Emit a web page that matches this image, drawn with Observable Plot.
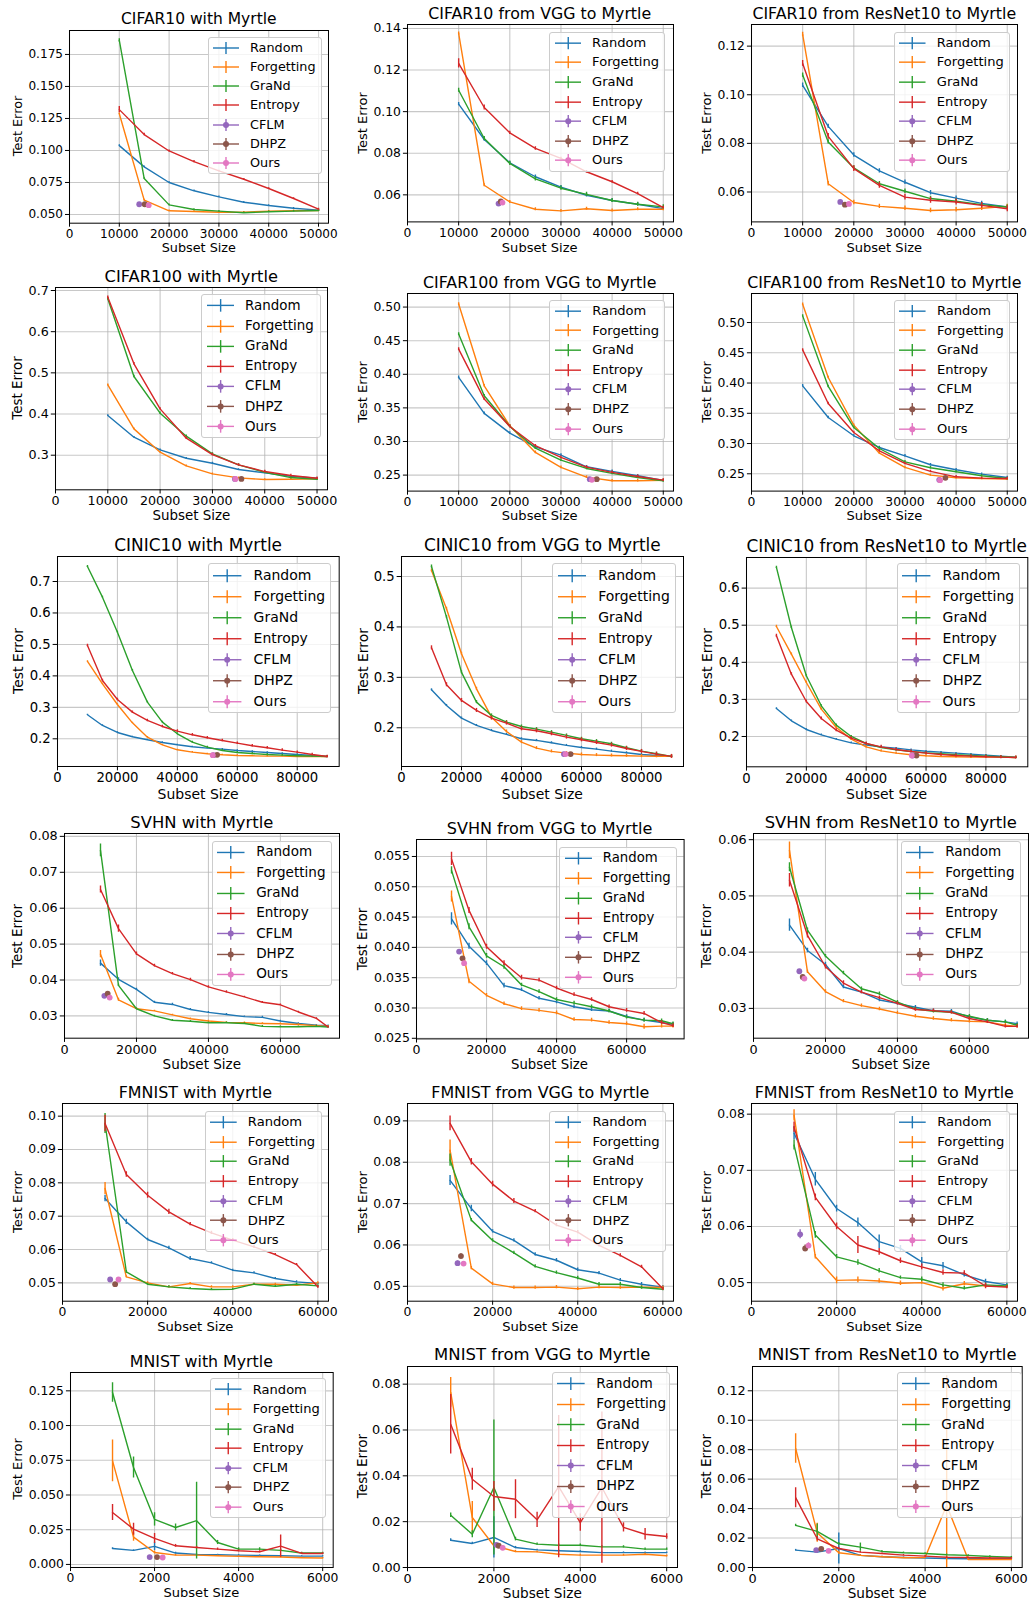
<!DOCTYPE html>
<html><head><meta charset="utf-8">
<script src="https://cdn.jsdelivr.net/npm/d3@7"></script>
<script src="https://cdn.jsdelivr.net/npm/@observablehq/plot@0.6"></script>
<style>
body{margin:0;background:#fff;}
#root{position:relative;width:1031px;height:1600px;overflow:hidden;background:#fff;font-family:"DejaVu Sans",sans-serif;color:#000;}
.t{position:absolute;white-space:nowrap;line-height:1;transform:translate(-50%,-50%);}
.lt{position:absolute;white-space:nowrap;line-height:1;transform:translate(0,-50%);}
.lg{position:absolute;box-sizing:border-box;border:1px solid #cccccc;border-radius:3px;background:rgba(255,255,255,0.8);}
.pw{position:absolute;}
</style></head><body><div id="root"></div>
<script>
// ---------- labels ----------
const methods = ["Random","Forgetting","GraNd","Entropy","CFLM","DHPZ","Ours"];
const colors = ["#1f77b4","#ff7f0e","#2ca02c","#d62728","#9467bd","#8c564b","#e377c2"];
const titles = [
 "CIFAR10 with Myrtle","CIFAR10 from VGG to Myrtle","CIFAR10 from ResNet10 to Myrtle",
 "CIFAR100 with Myrtle","CIFAR100 from VGG to Myrtle","CIFAR100 from ResNet10 to Myrtle",
 "CINIC10 with Myrtle","CINIC10 from VGG to Myrtle","CINIC10 from ResNet10 to Myrtle",
 "SVHN with Myrtle","SVHN from VGG to Myrtle","SVHN from ResNet10 to Myrtle",
 "FMNIST with Myrtle","FMNIST from VGG to Myrtle","FMNIST from ResNet10 to Myrtle",
 "MNIST with Myrtle","MNIST from VGG to Myrtle","MNIST from ResNet10 to Myrtle"];
const xLabel = "Subset Size", yLabel = "Test Error";

// ---------- subset sizes ----------
const xCifar = [10000,15000,20000,25000,30000,35000,40000,45000,50000];
const xCinic = [10000,15000,20000,25000,30000,35000,40000,45000,50000,55000,60000,65000,70000,75000,80000,85000,90000];
const xSvhn = [10000,15000,20000,25000,30000,35000,40000,45000,50000,55000,60000,65000,70000,73257];
const xFmnist = [10000,15000,20000,25000,30000,35000,40000,45000,50000,55000,60000];
const xMnist = [1000,1500,2000,2500,3000,3500,4000,4500,5000,5500,6000];

// ---------- tick labels ----------
const xt_cifar = [0,10000,20000,30000,40000,50000];
const xt_cinic = [0,20000,40000,60000,80000];
const xt_svhn = [0,20000,40000,60000];
const xt_fmnist = [0,20000,40000,60000];
const xt_mnist = [0,2000,4000,6000];
const yt_c10m = [0.05,0.075,0.1,0.125,0.15,0.175];
const yt_c10v = [0.06,0.08,0.10,0.12,0.14];
const yt_c10r = [0.06,0.08,0.10,0.12];
const yt_c100m = [0.3,0.4,0.5,0.6,0.7];
const yt_c100 = [0.25,0.30,0.35,0.40,0.45,0.50];
const yt_cinm = [0.2,0.3,0.4,0.5,0.6,0.7];
const yt_cinv = [0.2,0.3,0.4,0.5];
const yt_cinr = [0.2,0.3,0.4,0.5,0.6];
const yt_svm = [0.03,0.04,0.05,0.06,0.07,0.08];
const yt_svv = [0.025,0.030,0.035,0.040,0.045,0.050,0.055];
const yt_svr = [0.03,0.04,0.05,0.06];
const yt_fmm = [0.05,0.06,0.07,0.08,0.09,0.10];
const yt_fmv = [0.05,0.06,0.07,0.08,0.09];
const yt_fmr = [0.05,0.06,0.07,0.08];
const yt_mnm = [0,0.025,0.05,0.075,0.1,0.125];
const yt_mnv = [0,0.02,0.04,0.06,0.08];
const yt_mnr = [0,0.02,0.04,0.06,0.08,0.10,0.12];

// ---------- CIFAR10 ----------
const c10m_random = [0.1038,0.0872,0.0750,0.0685,0.0638,0.0596,0.0570,0.0549,0.0534];
const c10m_forgetting = [0.1287,0.0612,0.0529,0.0523,0.0518,0.0518,0.0526,0.0529,0.0531];
const c10m_grand = [0.1860,0.0781,0.0575,0.0539,0.0526,0.0513,0.0521,0.0526,0.0531];
const c10m_entropy = [0.1319,0.1124,0.0996,0.0913,0.0840,0.0775,0.0703,0.0625,0.0542];
const c10m_err = [0.0006,0.0006,[0.0012,0.0006,0.0006,0.0006,0.0006,0.0006,0.0006,0.0006,0.0006],[0.0025,0.0010,0.0008,0.0008,0.0006,0.0006,0.0006,0.0006,0.0006]];
const c10m_pts = [[14000,0.0580],[15100,0.0580],[15900,0.0573]];
const c10m_ptErr = [0.0006,0.0006,0.0006];

const c10v_random = [0.1036,0.0866,0.0754,0.0687,0.0637,0.0598,0.0573,0.0555,0.0534];
const c10v_forgetting = [0.1376,0.0646,0.0566,0.0531,0.0523,0.0533,0.0525,0.0531,0.0531];
const c10v_grand = [0.1103,0.0871,0.0751,0.0677,0.0632,0.0602,0.0573,0.0555,0.0542];
const c10v_entropy = [0.1232,0.1020,0.0898,0.0823,0.0775,0.0711,0.0663,0.0606,0.0539];
const c10v_err = [0.0008,0.0007,0.0010,[0.0022,0.0012,0.0008,0.0008,0.0006,0.0006,0.0006,0.0006,0.0006]];
const c10v_pts = [[17800,0.0558],[18240,0.0568],[18570,0.0563]];
const c10v_ptErr = [0.0006,0.0006,0.0006];

const c10r_random = [0.1039,0.0870,0.0752,0.0687,0.0640,0.0597,0.0575,0.0553,0.0538];
const c10r_forgetting = [0.1248,0.0634,0.0557,0.0541,0.0533,0.0524,0.0527,0.0533,0.0541];
const c10r_grand = [0.1081,0.0806,0.0699,0.0634,0.0603,0.0573,0.0562,0.0548,0.0538];
const c10r_entropy = [0.1129,0.0829,0.0696,0.0627,0.0579,0.0566,0.0559,0.0545,0.0531];
const c10r_err = [0.0009,0.0009,0.0009,0.0012];
const c10r_pts = [[17350,0.0559],[18260,0.0548],[19050,0.0551]];
const c10r_ptErr = [0.0006,0.0006,0.0006];

// ---------- CIFAR100 ----------
const c100m_random = [0.3964,0.3437,0.3130,0.2927,0.2806,0.2652,0.2571,0.2490,0.2441];
const c100m_forgetting = [0.4708,0.3640,0.3073,0.2741,0.2547,0.2449,0.2409,0.2417,0.2425];
const c100m_grand = [0.6798,0.4911,0.4020,0.3462,0.3032,0.2765,0.2587,0.2457,0.2417];
const c100m_entropy = [0.6838,0.5219,0.4125,0.3413,0.3016,0.2765,0.2603,0.2506,0.2441];
const c100m_err = [0.002,0.002,0.003,0.003];
const c100m_pts = [[34300,0.2425],[35540,0.2425],[34400,0.2425]];
const c100m_ptErr = [0.002,0.002,0.002];

const c100v_random = [0.3953,0.3418,0.3125,0.2920,0.2798,0.2624,0.2555,0.2490,0.2421];
const c100v_forgetting = [0.5045,0.3829,0.3234,0.2837,0.2614,0.2470,0.2416,0.2416,0.2421];
const c100v_grand = [0.4598,0.3681,0.3224,0.2900,0.2723,0.2599,0.2525,0.2465,0.2416];
const c100v_entropy = [0.4375,0.3631,0.3224,0.2937,0.2763,0.2619,0.2540,0.2480,0.2426];
const c100v_err = [0.002,0.002,0.002,0.002];
const c100v_pts = [[35630,0.2440],[36990,0.2440],[36030,0.2430]];
const c100v_ptErr = [0.002,0.002,0.002];

const c100r_random = [0.3954,0.3431,0.3128,0.2935,0.2797,0.2649,0.2566,0.2494,0.2439];
const c100r_forgetting = [0.5303,0.4091,0.3304,0.2841,0.2605,0.2478,0.2434,0.2423,0.2412];
const c100r_grand = [0.5110,0.3943,0.3265,0.2918,0.2698,0.2599,0.2533,0.2467,0.2423];
const c100r_entropy = [0.4548,0.3662,0.3183,0.2880,0.2671,0.2539,0.2450,0.2428,0.2423];
const c100r_err = [0.002,0.002,0.002,0.002];
const c100r_pts = [[36700,0.2400],[37900,0.2434],[36860,0.2395]];
const c100r_ptErr = [0.002,0.002,0.002];

// ---------- CINIC10 ----------
const cinm_random = [0.2763,0.2424,0.2201,0.2064,0.1968,0.1883,0.1809,0.1746,0.1703,0.1672,0.1629,0.1597,0.1566,0.1534,0.1502,0.1470,0.1439];
const cinm_forgetting = [0.4458,0.3748,0.3091,0.2508,0.2053,0.1809,0.1650,0.1576,0.1523,0.1491,0.1470,0.1460,0.1449,0.1449,0.1439,0.1439,0.1439];
const cinm_grand = [0.7477,0.6502,0.5390,0.4172,0.3165,0.2530,0.2159,0.1894,0.1735,0.1629,0.1566,0.1534,0.1502,0.1481,0.1460,0.1449,0.1439];
const cinm_entropy = [0.4966,0.3854,0.3250,0.2847,0.2583,0.2392,0.2244,0.2127,0.2032,0.1947,0.1862,0.1778,0.1714,0.1640,0.1576,0.1502,0.1439];
const cinm_err = [0.002,0.002,0.003,0.004];
const cinm_pts = [[52000,0.1480],[53260,0.1490],[51810,0.1480]];
const cinm_ptErr = [0.002,0.002,0.002];

const cinv_random = [0.2753,0.2443,0.2192,0.2046,0.1947,0.1868,0.1782,0.1749,0.1703,0.1650,0.1610,0.1577,0.1537,0.1504,0.1471,0.1451,0.1432];
const cinv_forgetting = [0.5120,0.4360,0.3467,0.2773,0.2211,0.1927,0.1716,0.1597,0.1531,0.1498,0.1471,0.1458,0.1451,0.1445,0.1438,0.1435,0.1432];
const cinv_grand = [0.5199,0.4194,0.3100,0.2509,0.2245,0.2112,0.2026,0.1974,0.1914,0.1848,0.1782,0.1736,0.1683,0.1603,0.1537,0.1484,0.1432];
const cinv_entropy = [0.3586,0.2853,0.2542,0.2344,0.2192,0.2093,0.1980,0.1940,0.1881,0.1815,0.1762,0.1709,0.1656,0.1590,0.1531,0.1478,0.1432];
const cinv_err = [0.002,0.003,0.003,0.004];
const cinv_pts = [[54140,0.1478],[56370,0.1478],[54700,0.1478]];
const cinv_ptErr = [0.002,0.002,0.002];

const cinr_random = [0.2755,0.2422,0.2189,0.2045,0.1928,0.1829,0.1766,0.1721,0.1685,0.1640,0.1604,0.1578,0.1551,0.1524,0.1497,0.1470,0.1443];
const cinr_forgetting = [0.4966,0.4220,0.3456,0.2737,0.2243,0.1928,0.1721,0.1613,0.1551,0.1506,0.1479,0.1461,0.1452,0.1443,0.1443,0.1443,0.1434];
const cinr_grand = [0.6557,0.4939,0.3636,0.2827,0.2306,0.2000,0.1811,0.1703,0.1640,0.1595,0.1559,0.1533,0.1506,0.1488,0.1470,0.1452,0.1434];
const cinr_entropy = [0.4715,0.3681,0.2944,0.2485,0.2171,0.1955,0.1811,0.1721,0.1649,0.1595,0.1551,0.1515,0.1488,0.1470,0.1452,0.1443,0.1434];
const cinr_err = [0.002,0.003,0.003,0.004];
const cinr_pts = [[55500,0.1488],[56800,0.1488],[55240,0.1488]];
const cinr_ptErr = [0.002,0.002,0.002];

// ---------- SVHN ----------
const svm_random = [0.0447,0.0402,0.0374,0.0338,0.0332,0.0318,0.0310,0.0304,0.0298,0.0296,0.0286,0.0279,0.0274,0.0273];
const svm_forgetting = [0.0472,0.0345,0.0320,0.0314,0.0303,0.0292,0.0286,0.0282,0.0281,0.0279,0.0278,0.0276,0.0273,0.0271];
const svm_grand = [0.0761,0.0385,0.0320,0.0300,0.0288,0.0285,0.0281,0.0281,0.0279,0.0271,0.0270,0.0270,0.0271,0.0269];
const svm_entropy = [0.0652,0.0543,0.0473,0.0440,0.0418,0.0401,0.0381,0.0367,0.0353,0.0338,0.0331,0.0311,0.0293,0.0269];
const svm_err = [
 [0.0009,0.0004,0.0003,0.0003,0.0003,0.0003,0.0002,0.0003,0.0002,0.0003,0.0002,0.0002,0.0002,0.0002],
 [0.0010,0.0004,0.0002,0.0002,0.0002,0.0002,0.0002,0.0002,0.0002,0.0002,0.0002,0.0002,0.0002,0.0002],
 [0.0018,0.0003,0.0002,0.0002,0.0002,0.0002,0.0002,0.0002,0.0002,0.0002,0.0002,0.0002,0.0002,0.0002],
 [0.0010,0.0010,0.0005,0.0004,0.0003,0.0004,0.0003,0.0003,0.0002,0.0002,0.0002,0.0002,0.0002,0.0002]];
const svm_pts = [[11070,0.0356],[12000,0.0362],[12560,0.0351]];
const svm_ptErr = [0.0003,0.0003,0.0003];

const svv_random = [0.0447,0.0402,0.0374,0.0337,0.0330,0.0316,0.0310,0.0302,0.0297,0.0295,0.0286,0.0280,0.0276,0.0273];
const svv_forgetting = [0.0484,0.0344,0.0321,0.0307,0.0299,0.0296,0.0292,0.0281,0.0280,0.0276,0.0274,0.0269,0.0270,0.0270];
const svv_grand = [0.0527,0.0434,0.0386,0.0368,0.0338,0.0327,0.0314,0.0308,0.0302,0.0295,0.0285,0.0280,0.0279,0.0274];
const svv_entropy = [0.0546,0.0461,0.0401,0.0374,0.0350,0.0346,0.0333,0.0322,0.0314,0.0302,0.0296,0.0291,0.0276,0.0271];
const svv_err = [
 [0.0010,0.0005,0.0004,0.0004,0.0003,0.0003,0.0003,0.0003,0.0003,0.0003,0.0003,0.0003,0.0003,0.0003],
 [0.0009,0.0004,0.0003,0.0003,0.0003,0.0003,0.0003,0.0003,0.0003,0.0003,0.0003,0.0004,0.0003,0.0003],
 [0.0006,0.0005,0.0004,0.0004,0.0003,0.0003,0.0003,0.0003,0.0003,0.0003,0.0003,0.0003,0.0003,0.0003],
 [0.0011,0.0005,0.0004,0.0004,0.0004,0.0003,0.0003,0.0003,0.0003,0.0003,0.0003,0.0003,0.0003,0.0003]];
const svv_pts = [[12170,0.0393],[13140,0.0382],[13600,0.0374]];
const svv_ptErr = [0.0003,0.0003,0.0003];

const svr_random = [0.0448,0.0403,0.0378,0.0338,0.0329,0.0315,0.0309,0.0302,0.0296,0.0295,0.0285,0.0279,0.0276,0.0273];
const svr_forgetting = [0.0581,0.0365,0.0330,0.0313,0.0305,0.0299,0.0292,0.0286,0.0282,0.0279,0.0277,0.0276,0.0270,0.0268];
const svr_grand = [0.0551,0.0439,0.0393,0.0363,0.0335,0.0326,0.0311,0.0299,0.0295,0.0293,0.0286,0.0279,0.0276,0.0270];
const svr_entropy = [0.0528,0.0430,0.0374,0.0345,0.0329,0.0319,0.0309,0.0298,0.0296,0.0293,0.0282,0.0276,0.0268,0.0268];
const svr_err = [
 [0.0011,0.0004,0.0004,0.0003,0.0003,0.0003,0.0003,0.0003,0.0003,0.0003,0.0003,0.0003,0.0003,0.0003],
 [0.0015,0.0003,0.0003,0.0003,0.0003,0.0003,0.0003,0.0003,0.0003,0.0003,0.0003,0.0003,0.0003,0.0003],
 [0.0008,0.0004,0.0003,0.0003,0.0003,0.0003,0.0003,0.0003,0.0003,0.0003,0.0003,0.0003,0.0003,0.0003],
 [0.0012,0.0005,0.0004,0.0004,0.0003,0.0003,0.0003,0.0003,0.0003,0.0003,0.0003,0.0003,0.0003,0.0003]];
const svr_pts = [[12740,0.0366],[13670,0.0356],[14140,0.0353]];
const svr_ptErr = [0.0003,0.0003,0.0003];

// ---------- FMNIST ----------
const fmm_random = [0.0753,0.0683,0.0630,0.0605,0.0573,0.0560,0.0538,0.0530,0.0513,0.0503,0.0498];
const fmm_forgetting = [0.0783,0.0518,0.0500,0.0488,0.0498,0.0488,0.0488,0.0496,0.0496,0.0493,0.0500];
const fmm_grand = [0.0978,0.0533,0.0496,0.0488,0.0483,0.0480,0.0481,0.0496,0.0490,0.0496,0.0491];
const fmm_entropy = [0.0978,0.0825,0.0763,0.0713,0.0676,0.0650,0.0628,0.0608,0.0585,0.0555,0.0488];
const fmm_err = [
 [0.0010,0.0008,0.0004,0.0005,0.0006,0.0003,0.0003,0.0003,0.0003,0.0003,0.0003],
 [0.0018,0.0003,0.0003,0.0003,0.0003,0.0003,0.0003,0.0003,0.0003,0.0003,0.0003],
 [0.0030,0.0004,0.0003,0.0003,0.0003,0.0003,0.0003,0.0003,0.0003,0.0003,0.0003],
 [0.0025,0.0008,0.0009,0.0008,0.0005,0.0005,0.0005,0.0005,0.0003,0.0003,0.0004]];
const fmm_pts = [[11200,0.0510],[12370,0.0496],[13160,0.0510]];
const fmm_ptErr = [0.0004,0.0004,0.0005];

const fmv_random = [0.0756,0.0688,0.0633,0.0611,0.0577,0.0563,0.0540,0.0532,0.0515,0.0505,0.0498];
const fmv_forgetting = [0.0829,0.0544,0.0506,0.0497,0.0497,0.0498,0.0494,0.0498,0.0497,0.0498,0.0497];
const fmv_grand = [0.0805,0.0660,0.0611,0.0581,0.0548,0.0533,0.0520,0.0505,0.0505,0.0497,0.0493];
const fmv_entropy = [0.0894,0.0801,0.0747,0.0706,0.0682,0.0648,0.0631,0.0599,0.0575,0.0547,0.0494];
const fmv_err = [
 [0.0012,0.0008,0.0004,0.0004,0.0004,0.0004,0.0004,0.0004,0.0004,0.0004,0.0004],
 [0.0025,0.0004,0.0004,0.0004,0.0004,0.0004,0.0004,0.0004,0.0004,0.0004,0.0004],
 [0.0015,0.0004,0.0004,0.0004,0.0004,0.0004,0.0004,0.0004,0.0004,0.0004,0.0004],
 [0.0018,0.0008,0.0007,0.0006,0.0004,0.0004,0.0004,0.0004,0.0004,0.0004,0.0004]];
const fmv_pts = [[11760,0.0556],[12560,0.0573],[13180,0.0555]];
const fmv_ptErr = [0.0005,0.0006,0.0005];

const fmr_random = [0.0766,0.0684,0.0632,0.0607,0.0573,0.0561,0.0537,0.0530,0.0514,0.0502,0.0496];
const fmr_forgetting = [0.0798,0.0546,0.0504,0.0505,0.0503,0.0499,0.0500,0.0490,0.0498,0.0494,0.0493];
const fmr_grand = [0.0745,0.0585,0.0546,0.0536,0.0521,0.0509,0.0506,0.0496,0.0490,0.0496,0.0494];
const fmr_entropy = [0.0777,0.0652,0.0600,0.0567,0.0555,0.0539,0.0528,0.0518,0.0517,0.0494,0.0492];
const fmr_err = [
 [0.0012,0.0012,0.0006,0.0008,0.0012,0.0005,0.0008,0.0006,0.0004,0.0004,0.0003],
 [0.0010,0.0004,0.0006,0.0005,0.0004,0.0004,0.0003,0.0005,0.0004,0.0003,0.0003],
 [0.0009,0.0006,0.0004,0.0005,0.0004,0.0003,0.0004,0.0004,0.0003,0.0003,0.0003],
 [0.0009,0.0006,0.0006,0.0015,0.0006,0.0005,0.0005,0.0005,0.0004,0.0005,0.0003]];
const fmr_pts = [[11430,0.0586],[12610,0.0561],[13390,0.0566]];
const fmr_ptErr = [0.0008,0.0006,0.0005];

// ---------- MNIST ----------
const mnm_random = [0.0115,0.0101,0.0130,0.0082,0.0072,0.0070,0.0067,0.0065,0.0062,0.0060,0.0060];
const mnm_forgetting = [0.0746,0.0197,0.0086,0.0067,0.0067,0.0062,0.0058,0.0055,0.0053,0.0048,0.0046];
const mnm_grand = [0.1238,0.0698,0.0324,0.0266,0.0315,0.0158,0.0110,0.0110,0.0101,0.0082,0.0082];
const mnm_entropy = [0.0374,0.0254,0.0187,0.0134,0.0122,0.0110,0.0098,0.0091,0.0132,0.0079,0.0079];
const mnm_err = [
 [0.0005,0.0004,0.0030,0.0006,0.0004,0.0003,0.0003,0.0003,0.0003,0.0003,0.0003],
 [0.0150,0.0030,0.0010,0.0005,0.0005,0.0004,0.0004,0.0004,0.0004,0.0004,0.0004],
 [0.0070,0.0075,0.0048,0.0025,0.0276,0.0015,0.0010,0.0010,0.0008,0.0006,0.0006],
 [0.0058,0.0043,0.0036,0.0010,0.0008,0.0008,0.0007,0.0007,0.0080,0.0005,0.0005]];
const mnm_pts = [[1884,0.0053],[2059,0.0053],[2193,0.0050]];
const mnm_ptErr = [0.0008,0.0008,0.0008];

const mnv_random = [0.0119,0.0105,0.0131,0.0087,0.0077,0.0073,0.0070,0.0065,0.0065,0.0065,0.0065];
const mnv_forgetting = [0.0764,0.0218,0.0095,0.0070,0.0068,0.0058,0.0054,0.0054,0.0054,0.0058,0.0051];
const mnv_grand = [0.0228,0.0145,0.0349,0.0124,0.0102,0.0097,0.0097,0.0090,0.0090,0.0080,0.0080];
const mnv_entropy = [0.0625,0.0385,0.0310,0.0298,0.0208,0.0353,0.0196,0.0349,0.0175,0.0145,0.0135];
const mnv_err = [
 [0.0006,0.0005,0.0090,0.0005,0.0003,0.0003,0.0003,0.0003,0.0003,0.0003,0.0003],
 [0.0065,0.0070,0.0010,0.0005,0.0004,0.0004,0.0004,0.0004,0.0004,0.0004,0.0004],
 [0.0010,0.0015,0.0295,0.0008,0.0005,0.0005,0.0005,0.0005,0.0005,0.0005,0.0005],
 [0.0130,0.0048,0.0065,0.0085,0.0033,0.0310,0.0038,0.0330,0.0020,0.0025,0.0012]];
const mnv_pts = [[2058,0.0099],[2111,0.0095],[2204,0.0086]];
const mnv_ptErr = [0.0008,0.0008,0.0008];

const mnr_random = [0.0118,0.0104,0.0129,0.0082,0.0073,0.0068,0.0064,0.0061,0.0059,0.0059,0.0059];
const mnr_forgetting = [0.0808,0.0236,0.0100,0.0082,0.0073,0.0066,0.0068,0.0422,0.0054,0.0054,0.0054];
const mnr_grand = [0.0286,0.0245,0.0161,0.0138,0.0109,0.0100,0.0095,0.0086,0.0082,0.0075,0.0070];
const mnr_entropy = [0.0474,0.0195,0.0129,0.0104,0.0095,0.0084,0.0077,0.0070,0.0068,0.0064,0.0064];
const mnr_err = [
 [0.0005,0.0004,0.0105,0.0004,0.0003,0.0003,0.0003,0.0003,0.0003,0.0003,0.0003],
 [0.0100,0.0065,0.0010,0.0005,0.0004,0.0004,0.0004,0.0880,0.0004,0.0004,0.0004],
 [0.0008,0.0050,0.0008,0.0028,0.0006,0.0005,0.0005,0.0005,0.0005,0.0005,0.0005],
 [0.0068,0.0015,0.0008,0.0005,0.0004,0.0004,0.0004,0.0004,0.0004,0.0004,0.0004]];
const mnr_pts = [[1477,0.0118],[1593,0.0127],[1763,0.0113]];
const mnr_ptErr = [0.0008,0.0008,0.0008];

// ---------- panel table ----------
const panels = [
 [xCifar,[c10m_random,c10m_forgetting,c10m_grand,c10m_entropy],c10m_err,c10m_pts,c10m_ptErr,xt_cifar,yt_c10m,".3f"],
 [xCifar,[c10v_random,c10v_forgetting,c10v_grand,c10v_entropy],c10v_err,c10v_pts,c10v_ptErr,xt_cifar,yt_c10v,".2f"],
 [xCifar,[c10r_random,c10r_forgetting,c10r_grand,c10r_entropy],c10r_err,c10r_pts,c10r_ptErr,xt_cifar,yt_c10r,".2f"],
 [xCifar,[c100m_random,c100m_forgetting,c100m_grand,c100m_entropy],c100m_err,c100m_pts,c100m_ptErr,xt_cifar,yt_c100m,".1f"],
 [xCifar,[c100v_random,c100v_forgetting,c100v_grand,c100v_entropy],c100v_err,c100v_pts,c100v_ptErr,xt_cifar,yt_c100,".2f"],
 [xCifar,[c100r_random,c100r_forgetting,c100r_grand,c100r_entropy],c100r_err,c100r_pts,c100r_ptErr,xt_cifar,yt_c100,".2f"],
 [xCinic,[cinm_random,cinm_forgetting,cinm_grand,cinm_entropy],cinm_err,cinm_pts,cinm_ptErr,xt_cinic,yt_cinm,".1f"],
 [xCinic,[cinv_random,cinv_forgetting,cinv_grand,cinv_entropy],cinv_err,cinv_pts,cinv_ptErr,xt_cinic,yt_cinv,".1f"],
 [xCinic,[cinr_random,cinr_forgetting,cinr_grand,cinr_entropy],cinr_err,cinr_pts,cinr_ptErr,xt_cinic,yt_cinr,".1f"],
 [xSvhn,[svm_random,svm_forgetting,svm_grand,svm_entropy],svm_err,svm_pts,svm_ptErr,xt_svhn,yt_svm,".2f"],
 [xSvhn,[svv_random,svv_forgetting,svv_grand,svv_entropy],svv_err,svv_pts,svv_ptErr,xt_svhn,yt_svv,".3f"],
 [xSvhn,[svr_random,svr_forgetting,svr_grand,svr_entropy],svr_err,svr_pts,svr_ptErr,xt_svhn,yt_svr,".2f"],
 [xFmnist,[fmm_random,fmm_forgetting,fmm_grand,fmm_entropy],fmm_err,fmm_pts,fmm_ptErr,xt_fmnist,yt_fmm,".2f"],
 [xFmnist,[fmv_random,fmv_forgetting,fmv_grand,fmv_entropy],fmv_err,fmv_pts,fmv_ptErr,xt_fmnist,yt_fmv,".2f"],
 [xFmnist,[fmr_random,fmr_forgetting,fmr_grand,fmr_entropy],fmr_err,fmr_pts,fmr_ptErr,xt_fmnist,yt_fmr,".2f"],
 [xMnist,[mnm_random,mnm_forgetting,mnm_grand,mnm_entropy],mnm_err,mnm_pts,mnm_ptErr,xt_mnist,yt_mnm,".3f"],
 [xMnist,[mnv_random,mnv_forgetting,mnv_grand,mnv_entropy],mnv_err,mnv_pts,mnv_ptErr,xt_mnist,yt_mnv,".2f"],
 [xMnist,[mnr_random,mnr_forgetting,mnr_grand,mnr_entropy],mnr_err,mnr_pts,mnr_ptErr,xt_mnist,yt_mnr,".2f"]
];

// axis limits [xmax, ymin, ymax]
const limits = [
 [52000,0.0432,0.1937],[52000,0.0470,0.1419],[52000,0.0477,0.1289],
 [52000,0.216,0.7073],[52000,0.2262,0.5202],[52000,0.2214,0.548],
 [94000,0.112,0.7795],[94000,0.1232,0.5397],[94000,0.1183,0.6825],
 [76420,0.0238,0.0808],[76420,0.0249,0.0578],[76420,0.0247,0.0611],
 [62500,0.0445,0.1038],[62500,0.0464,0.0942],[62500,0.0467,0.0819],
 [6250,-0.0022,0.1382],[6250,0,0.0877],[6250,0,0.1365]];

// ---------- layout (pixels) ----------
const frames = [
 [69.3,328.3,30,222.7],[406.7,672.7,24.3,221.7],[751.3,1017.3,24.3,221.7],
 [55.3,327.3,287,489.3],[406.7,672.7,292.7,490.3],[751.3,1017.3,292.7,490.3],
 [57.3,339,556,766],[401.3,683.3,556,766],[746,1027.3,556.7,766],
 [64.3,339.3,833.3,1038],[415.7,683.3,839.3,1038.7],[753.3,1028.3,833.3,1038],
 [62.3,328.3,1103.3,1301],[407.3,673.3,1103.3,1301],[751.3,1017.3,1103.3,1301],
 [70,332.7,1371.7,1566.7],[407.3,677.3,1365.7,1566.7],[752.3,1022,1365.7,1566.7]];
const legendBoxes = [
 [208,36.7,321.7,174],[549.3,31.7,665.3,171.7],[894,31.7,1010,171.7],
 [201,294.3,320.7,438.3],[549.3,299.7,665.3,440],[894,299.7,1010,440],
 [207.7,563.3,331,713.3],[552.3,563.3,675.7,713.3],[896.7,563.3,1020,713.3],
 [211.7,840.7,331.7,986],[559.3,846.7,676.7,989],[900.7,840.7,1020.7,986],
 [204.7,1110.7,321.7,1251.7],[549.3,1110.7,666,1251.7],[894,1110.7,1010,1251.7],
 [210,1378.3,326,1518.3],[551.7,1372.3,670,1518.3],[896.7,1372.3,1021.7,1518.3]];
const yLabelX = [17.5,362.7,707.3];

const root = document.getElementById("root");
function txt(str, cx, cy, size, rot){
  const d = document.createElement("div");
  d.className = "t"; d.textContent = str;
  d.style.left = cx+"px"; d.style.top = cy+"px"; d.style.fontSize = size+"px";
  if (rot) d.style.transform = "translate(-50%,-50%) rotate(-90deg)";
  root.appendChild(d);
}
const errAt = (e,j) => Array.isArray(e) ? e[j] : e;

panels.forEach((p, i) => {
  const [xs, series, errs, pts, ptErr, xt, yt, fmt] = p;
  const [L,R,T,B] = frames[i];
  const [xmax, ymin, ymax] = limits[i];
  const [lx0, ly0, lx1, ly1] = legendBoxes[i];
  const s = (ly1 - ly0) / 137.3;
  const ML = 62, MR = 4, MT = 8, MB = 26;
  const lw = 1.4;
  const marks = [
    Plot.gridX(xt, {stroke: "#b0b0b0", strokeOpacity: 0.7, strokeWidth: 1.1}),
    Plot.gridY(yt, {stroke: "#b0b0b0", strokeOpacity: 0.7, strokeWidth: 1.1})
  ];
  series.forEach((ys, k) => {
    const d = xs.map((x, j) => ({x, y: ys[j], e: errAt(errs[k], j)}));
    marks.push(Plot.line(d, {x: "x", y: "y", stroke: colors[k], strokeWidth: lw, clip: true}));
    marks.push(Plot.ruleX(d, {x: "x", y1: v => v.y - v.e, y2: v => v.y + v.e, stroke: colors[k], strokeWidth: lw, clip: true}));
  });
  pts.forEach((pt, k) => {
    const d = [{x: pt[0], y: pt[1], e: ptErr[k]}];
    marks.push(Plot.ruleX(d, {x: "x", y1: v => v.y - v.e, y2: v => v.y + v.e, stroke: colors[4+k], strokeWidth: lw, clip: true}));
    marks.push(Plot.dot(d, {x: "x", y: "y", r: 2.9, fill: colors[4+k], stroke: "none", clip: true}));
  });
  marks.push(Plot.frame({stroke: "#000", strokeWidth: 1}));
  marks.push(Plot.axisX(xt, {tickSize: 4*s, tickPadding: 2, tickFormat: d => String(d), label: null}));
  marks.push(Plot.axisY(yt, {tickSize: 4*s, tickPadding: 2.5, tickFormat: d3.format(fmt), label: null}));
  const W = (R-L) + ML + MR, H = (B-T) + MT + MB;
  const svg = Plot.plot({
    width: W, height: H,
    marginLeft: ML, marginRight: MR, marginTop: MT, marginBottom: MB,
    x: {domain: [0, xmax]},
    y: {domain: [ymin, ymax]},
    style: {fontFamily: "DejaVu Sans", fontSize: (12.1*s)+"px", color: "#000", background: "none", overflow: "visible", maxWidth: "none"},
    marks
  });
  const w = document.createElement("div");
  w.className = "pw";
  w.style.left = (L-ML)+"px"; w.style.top = (T-MT)+"px"; w.style.width = W+"px"; w.style.height = H+"px";
  w.appendChild(svg);
  root.appendChild(w);

  // title and axis labels
  txt(titles[i], (L+R)/2, T - 9.8*s, 15.5*s, false);
  txt(xLabel, (L+R)/2, B + 25.6*s, 12.8*s, false);
  txt(yLabel, yLabelX[i % 3], (T+B)/2, 12.8*s, true);

  // legend
  const lg = document.createElement("div");
  lg.className = "lg";
  const lh = ly1 - ly0;
  lg.style.left = lx0+"px"; lg.style.top = ly0+"px"; lg.style.width = (lx1-lx0)+"px"; lg.style.height = lh+"px";
  const sp = (lh - 22*s) / 6, pad = (lh - 6*sp) / 2;
  methods.forEach((m, k) => {
    const cy = pad + k*sp - 1;
    const hw = 26*s, hh = 16*s;
    const h = document.createElement("div");
    h.style.position = "absolute";
    h.style.left = (5.3*s - 1)+"px"; h.style.top = (cy - hh/2)+"px";
    h.innerHTML = `<svg width="${hw}" height="${hh}" style="display:block">` +
      `<line x1="0" x2="${hw}" y1="${hh/2}" y2="${hh/2}" stroke="${colors[k]}" stroke-width="${lw}"/>` +
      `<line x1="${hw/2}" x2="${hw/2}" y1="${hh/2-6*s}" y2="${hh/2+6*s}" stroke="${colors[k]}" stroke-width="${lw}"/>` +
      (k >= 4 ? `<circle cx="${hw/2}" cy="${hh/2}" r="3" fill="${colors[k]}"/>` : "") +
      `</svg>`;
    lg.appendChild(h);
    const t = document.createElement("div");
    t.className = "lt"; t.textContent = m;
    t.style.left = (42*s - 1)+"px"; t.style.top = cy+"px"; t.style.fontSize = (12.8*s)+"px";
    lg.appendChild(t);
  });
  root.appendChild(lg);
});
</script></body></html>
